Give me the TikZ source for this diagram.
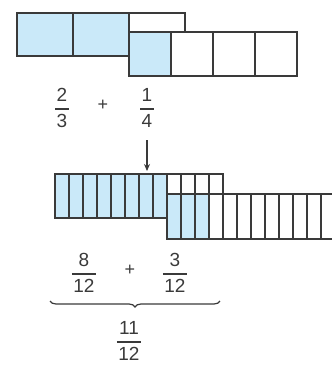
\documentclass[tikz,border=0pt]{standalone}
\usepackage{fontspec}
\setmainfont{Liberation Sans}
\usepackage{amsmath}
\usepackage{tikz}
\usetikzlibrary{decorations.pathreplacing,arrows.meta}
\definecolor{partblue}{HTML}{CAE9F9}
\definecolor{barline}{HTML}{3A3A3A}
\newcommand\fr[2]{$\genfrac{}{}{1.5pt}{0}{\mbox{\kern1.5pt#1\kern1.5pt}}{\mbox{\kern1.5pt#2\kern1.5pt}}$}

\begin{document}
\begin{tikzpicture}[x=1pt,y=-1pt,
		bar/.style={draw=barline, line width=1.6pt, fill=white},
		cut/.style={draw=barline, line width=1.6pt},
		lbl/.style={font=\fontsize{19}{21}\selectfont, inner sep=0pt, text=barline},
		plus/.style={font=\fontsize{18}{20}\selectfont, inner sep=0pt, text=barline}]
			%%%%% START %%%%%
			\useasboundingbox (0,0) rectangle (332,365);
			
			% thirds
			\draw[bar] (17,13) rectangle (185,56);
			\fill[partblue] (17,13) rectangle (129,56);
			\draw[bar, fill=none] (17,13) rectangle (185,56);
			\draw[cut] (73,13) -- (73,56);
			\draw[cut] (129,13) -- (129,56);
			
			% quarters
			\draw[bar] (129,32) rectangle (297,76);
			\fill[partblue] (129,32) rectangle (171,76);
			\draw[bar, fill=none] (129,32) rectangle (297,76);
			\draw[cut] (171,32) -- (171,76);
			\draw[cut] (213,32) -- (213,76);
			\draw[cut] (255,32) -- (255,76);
			
			\node[lbl] (twothirds) at (62,108) {\fr{2}{3}};
			\node[plus] (plusa) at (103,105) {+};
			\node[lbl] (onequarter) at (147,108) {\fr{1}{4}};
			
			\coordinate (arrtop) at (147,140);
			\coordinate (arrbot) at (147,171);
			\draw[barline, line width=1.3pt, -{Stealth[length=7pt,width=6pt]}] (arrtop) -- (arrbot);
			
			% twelfths, first bar
			\draw[bar] (55,174) rectangle (223,218);
			\fill[partblue] (55,174) rectangle (167,218);
			\draw[bar, fill=none] (55,174) rectangle (223,218);
			\foreach \i in {1,...,11}
				\draw[cut] (55+14*\i,174) -- (55+14*\i,218);
			
			% twelfths, second bar
			\draw[bar] (167,194) rectangle (335,239);
			\fill[partblue] (167,194) rectangle (209,239);
			\draw[bar, fill=none] (167,194) rectangle (335,239);
			\foreach \i in {1,...,11}
				\draw[cut] (167+14*\i,194) -- (167+14*\i,239);
			
			\node[lbl] (eight) at (84,273) {\fr{8}{12}};
			\node[plus] (plusb) at (130,270) {+};
			\node[lbl] (three) at (175,273) {\fr{3}{12}};
			
			\coordinate (braceleft) at (50,301);
			\coordinate (braceright) at (220,301);
			\draw[barline, line width=1.2pt, decorate, decoration={brace, mirror, amplitude=6pt}]
				(braceleft) -- (braceright);
			
			\node[lbl] (sum) at (129,341) {\fr{11}{12}};
			%%%%% END %%%%%
		\end{tikzpicture}
\end{document}
